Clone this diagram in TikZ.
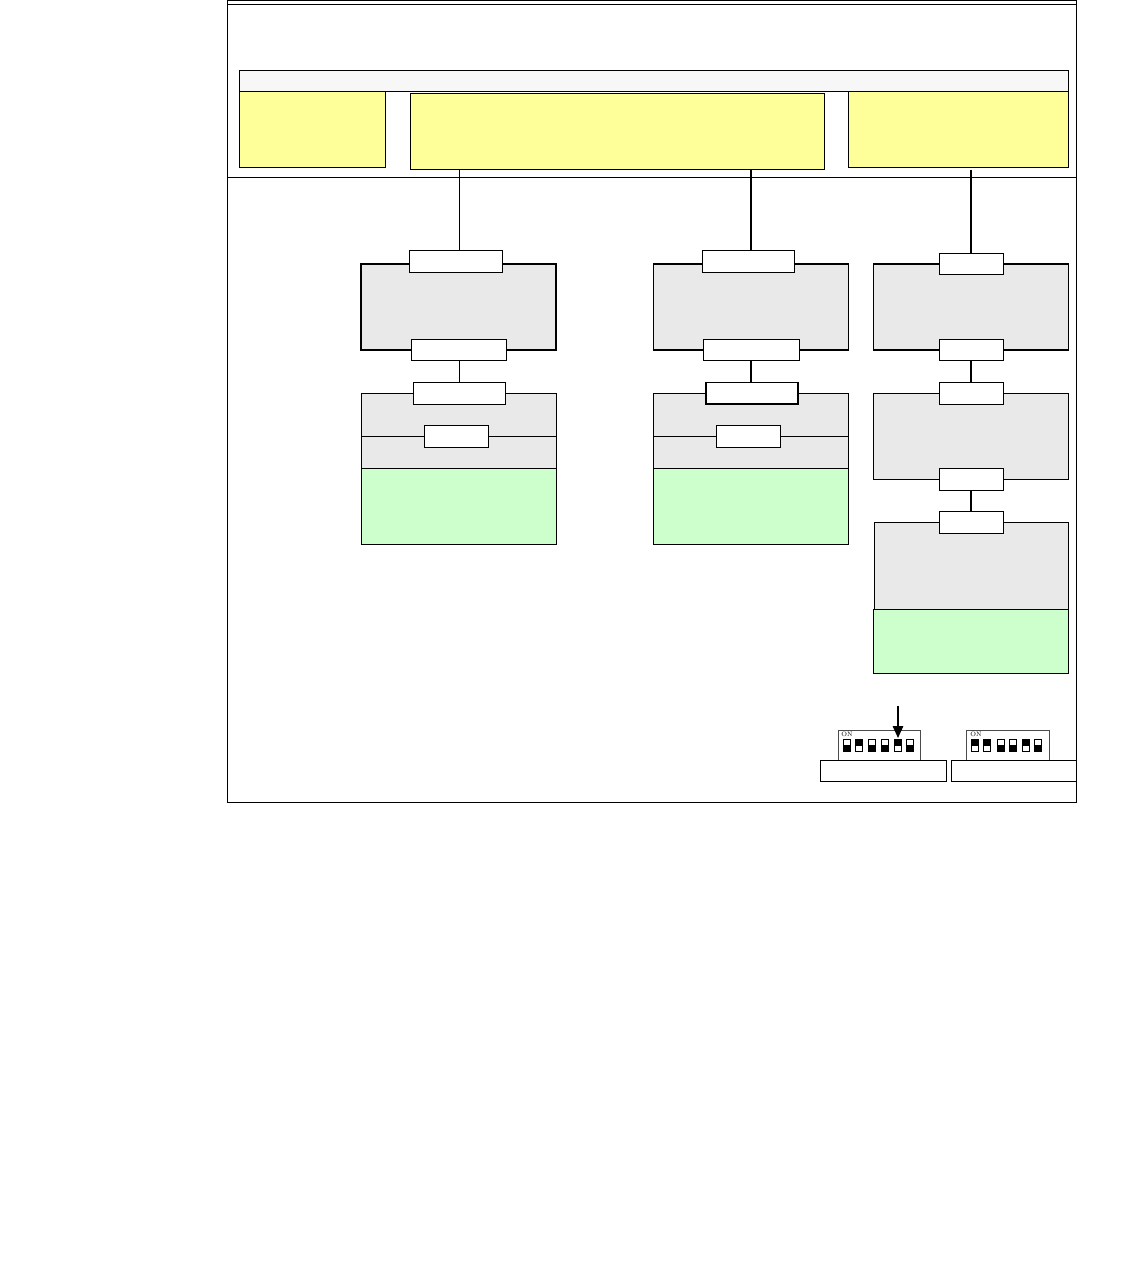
\documentclass[tikz,border=0pt]{standalone}
\usepackage{tikz}
\usetikzlibrary{arrows.meta,calc}
\definecolor{barcolor}{RGB}{247,247,247}
\definecolor{hostcolor}{RGB}{255,255,153}
\definecolor{unitcolor}{RGB}{233,233,233}
\definecolor{memcolor}{RGB}{204,255,204}
\tikzset{
  block/.style={
    draw=black,
    line width=0.7pt,
    inner sep=0pt,
    outer sep=0pt,
    anchor=north west
  },
  host box/.style={block, fill=hostcolor},
  unit box/.style={block, fill=unitcolor},
  unit heavy/.style={unit box, line width=1.2pt},
  mem box/.style={block, fill=memcolor},
  tab box/.style={block, fill=white, line width=0.9pt},
  dip box/.style={block, fill=white, draw=black!70, line width=0.9pt},
  link/.style={line width=0.8pt},
  link heavy/.style={line width=1.4pt},
  arrow/.style={-{Triangle[length=12pt,width=10.5pt]}, line width=1.5pt},
  lever/.style={draw=black, line width=0.8pt, inner sep=0pt, outer sep=0pt, minimum width=7pt, minimum height=6pt}
}
% box at pixel corners: name, style, left, top, right, bottom
\newcommand{\pbox}[6]{\node[#2, minimum width=#5pt-#3pt, minimum height=#6pt-#4pt] (#1) at (#3,#4) {};}
% dip lever: name, x, upper fill, lower fill
\newcommand{\dipsw}[4]{
  \node[lever, fill=#3] (#1t) at (#2,742.5) {};
  \node[lever, fill=#4] (#1b) at (#2,748.5) {};
}
\begin{document}
\begin{tikzpicture}[x=1pt, y=-1pt]
  \useasboundingbox (0,0) rectangle (1134,1286);

  % Frame
  \pbox{frame}{block}{227.5}{0.5}{1076.5}{802}
  \draw[link] (frame.west |- 0,4.5) -- (frame.east |- 0,4.5);
  \draw[link] (frame.west |- 0,177.5) -- (frame.east |- 0,177.5);

  % Host
  \pbox{bar}{block, fill=barcolor, line width=0.9pt}{239}{70}{1068.5}{91}
  \pbox{hostl}{host box}{239.5}{91.5}{385.5}{167.5}
  \pbox{hostm}{host box}{410.5}{93.5}{824.5}{169.5}
  \pbox{hostr}{host box}{848.5}{91.5}{1068.5}{167.5}

  % Column A
  \pbox{aupper}{unit heavy}{361}{264}{556}{350}
  \pbox{amid}{unit box, line width=1pt}{361}{393}{556}{468.5}
  \draw[link] (amid.west |- 0,436.5) -- (amid.east |- 0,436.5);
  \pbox{amem}{mem box, line width=1pt}{361}{468.5}{556}{544.5}
  \pbox{atop}{tab box}{409.5}{250.5}{502.5}{272}
  \pbox{abot}{tab box}{411}{339.5}{506}{360.5}
  \pbox{ain}{tab box}{413.5}{382.5}{505.5}{404}
  \pbox{alun}{tab box}{424.5}{425.5}{488}{447.5}
  \draw[link] (459.5,169.5) -- (atop.north -| 459.5,0);
  \draw[link] (abot.south -| 459,0) -- (ain.north -| 459,0);

  % Column B
  \pbox{bupper}{unit heavy}{653.5}{264}{848.5}{350}
  \pbox{bmid}{unit box, line width=0.9pt}{653.5}{393}{848.5}{468.5}
  \draw[link] (bmid.west |- 0,436.5) -- (bmid.east |- 0,436.5);
  \pbox{bmem}{mem box}{653.5}{468.5}{848.5}{544.5}
  \pbox{btop}{tab box}{702.5}{250.5}{794.5}{272}
  \pbox{bbot}{tab box}{703.5}{339.5}{799}{360.5}
  \pbox{bin}{tab box, line width=1.1pt}{706}{382.5}{798}{404}
  \pbox{blun}{tab box}{716.5}{425.5}{780.5}{447.5}
  \draw[link heavy] (751,169.5) -- (btop.north -| 751,0);
  \draw[link heavy] (bbot.south -| 751,0) -- (bin.north -| 751,0);

  % Column C
  \pbox{cupper}{unit heavy}{873.5}{264}{1068.5}{350}
  \pbox{cmid}{unit box}{873.5}{393.5}{1068.5}{479.5}
  \pbox{clow}{unit box, line width=0.9pt}{874}{522}{1068.5}{609.5}
  \pbox{cmem}{mem box}{873.5}{609.5}{1068.5}{673.5}
  \pbox{ctop}{tab box}{939.5}{253}{1003}{274.5}
  \pbox{cbot}{tab box}{939.5}{339.5}{1003}{360.5}
  \pbox{cin}{tab box}{939.5}{382.5}{1003}{404}
  \pbox{cout}{tab box}{939.5}{468.5}{1003}{490.5}
  \pbox{clast}{tab box}{939.5}{511.5}{1003}{533.5}
  \draw[link heavy] (971,170) -- (ctop.north -| 971,0);
  \draw[link heavy] (cbot.south -| 971,0) -- (cin.north -| 971,0);
  \draw[link heavy] (cout.south -| 971,0) -- (clast.north -| 971,0);

  % Switches
  \pbox{dipa}{dip box}{838}{730}{920}{760.5}
  \pbox{dipb}{dip box}{966}{730}{1049}{760.5}
  \pbox{laba}{tab box}{820}{760.5}{946.5}{781.5}
  \pbox{labb}{tab box}{951.5}{760.5}{1076.5}{781.5}
  \node[font=\fontsize{6.5}{6.5}\selectfont, inner sep=0pt] (ona) at (847,734.5) {ON};
  \node[font=\fontsize{6.5}{6.5}\selectfont, inner sep=0pt] (onb) at (976,734.5) {ON};
  \foreach \px/\pc/\qc [count=\i] in {846.5/white/black, 858.5/black/white, 872/white/black, 884.5/white/black, 897.5/black/white, 909.5/white/black} {
    \dipsw{da\i}{\px}{\pc}{\qc}
  }
  \foreach \px/\pc/\qc [count=\i] in {975/black/white, 987/black/white, 1000.5/white/black, 1013/white/black, 1026/black/white, 1038/white/black} {
    \dipsw{db\i}{\px}{\pc}{\qc}
  }
  \coordinate (pointer) at (898,706);
  \draw[arrow] (pointer) -- (898,738);

\end{tikzpicture}
\end{document}
